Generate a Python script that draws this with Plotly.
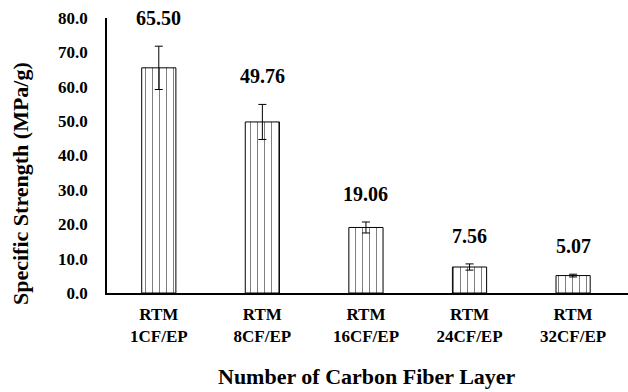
import plotly.graph_objects as go

categories = ["RTM<br>1CF/EP", "RTM<br>8CF/EP", "RTM<br>16CF/EP", "RTM<br>24CF/EP", "RTM<br>32CF/EP"]
values = [65.50, 49.76, 19.06, 7.56, 5.07]
errors = [6.3, 5.1, 1.6, 0.9, 0.4]
labels = ["65.50", "49.76", "19.06", "7.56", "5.07"]
y_ticks = [0, 10, 20, 30, 40, 50, 60, 70, 80]

FONT = "Liberation Serif"
L, R, T, B = 107, 0, 18, 99
PW, PH = 628 - L - R, 392 - T - B

fig = go.Figure()
fig.add_trace(go.Bar(
    x=categories, y=values,
    marker=dict(
        color="white",
        line=dict(color="black", width=1),
        pattern=dict(shape="|", fgcolor="black", bgcolor="white", size=7, solidity=0.15),
    ),
    error_y=dict(type="data", array=errors, visible=True, color="black", thickness=1, width=4),
    width=0.33,
))

for c, v, e, t in zip(categories, values, errors, labels):
    fig.add_annotation(x=c, y=v + e, text=f"<b>{t}</b>", showarrow=False,
                       yshift=28, yanchor="middle",
                       font=dict(family=FONT, size=20, color="black"))

# axis titles as annotations for exact placement
fig.add_annotation(xref="paper", yref="paper", x=(20 - L) / PW, y=(293 - 184) / PH,
                   text="<b>Specific Strength (MPa/g)</b>", textangle=-90, showarrow=False,
                   xanchor="center", yanchor="middle",
                   font=dict(family=FONT, size=22, color="black"))
fig.add_annotation(xref="paper", yref="paper", x=(367 - L) / PW, y=(293 - 376) / PH,
                   text="<b>Number of Carbon Fiber Layer</b>", showarrow=False,
                   xanchor="center", yanchor="middle",
                   font=dict(family=FONT, size=22, color="black"))

fig.update_layout(
    width=628, height=392,
    margin=dict(l=L, r=R, t=T, b=B),
    plot_bgcolor="white", paper_bgcolor="white",
    showlegend=False,
    font=dict(family=FONT, color="black"),
)
fig.update_xaxes(
    range=[-0.5, 4.53],
    showline=True, linecolor="black", linewidth=1.5,
    ticks="", showgrid=False,
    ticktext=[f"<b>{c}</b>" for c in categories], tickvals=categories,
    tickfont=dict(family=FONT, size=17, color="black"),
    ticklabelstandoff=5,
)
fig.update_yaxes(
    range=[0, 80],
    tickvals=y_ticks,
    ticktext=[f"<b>{v:.1f}</b>" for v in y_ticks],
    showline=True, linecolor="black", linewidth=1.5,
    ticks="", showgrid=False, zeroline=False,
    tickfont=dict(family=FONT, size=17, color="black"),
    ticklabelstandoff=14,
)

fig.write_html("out.html")
